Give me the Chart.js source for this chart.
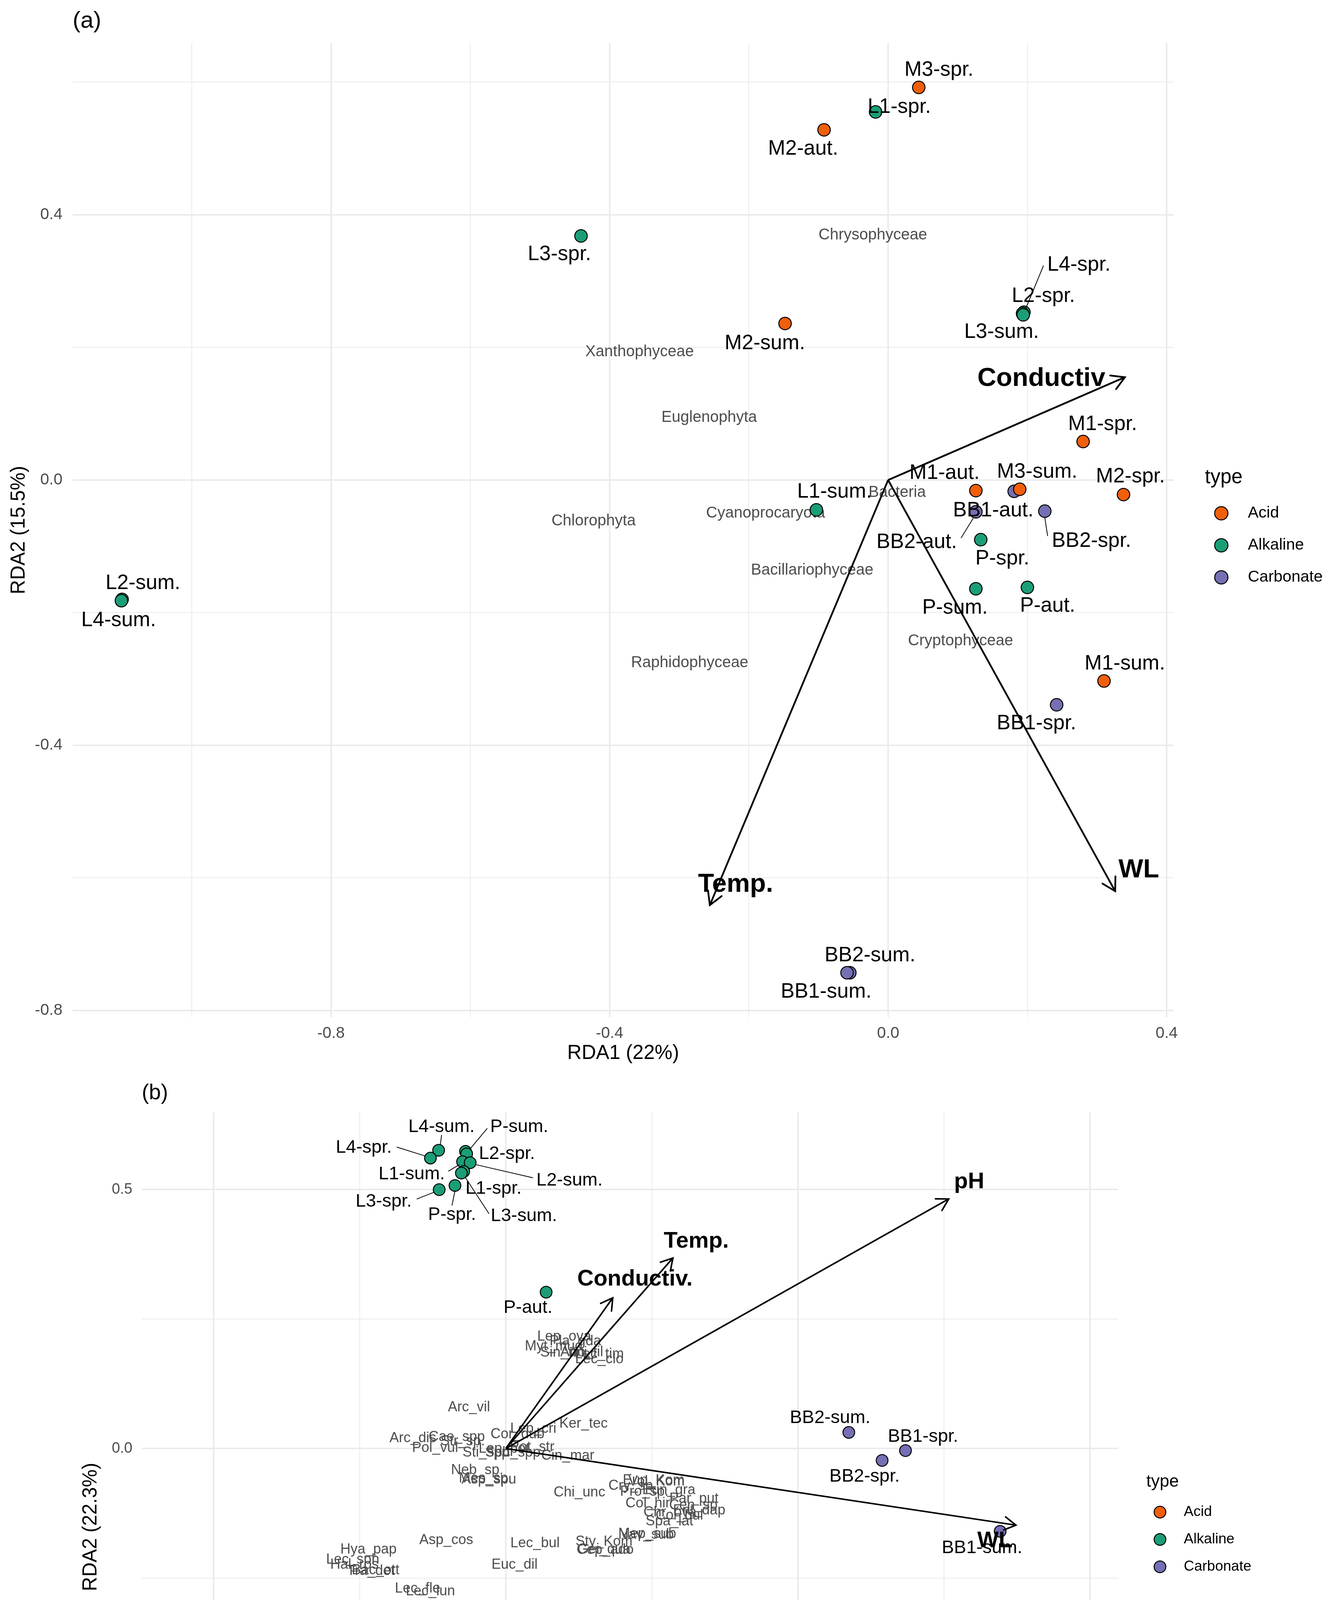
<!DOCTYPE html>
<html>
<head>
<meta charset="utf-8">
<script src="https://cdn.jsdelivr.net/npm/chart.js@4.4.0/dist/chart.umd.min.js"></script>
<style>
  body { margin: 0; background: #fff; }
  canvas { position: absolute; left: 0; }
</style>
</head>
<body>
<canvas id="rda-a" width="3413" height="2750" style="top:0;width:3413px;height:2750px"></canvas>
<canvas id="rda-b" width="3413" height="2350" style="top:2750px;width:3413px;height:2350px"></canvas>
<script>
const typeNames = ['Acid', 'Alkaline', 'Carbonate'];
const typeColors = ['#F05F0A', '#1B9E77', '#7570B3'];

// ---- panel (a): phytoplankton classes ----
const aSites = ['M3-spr.', 'M2-aut.', 'M2-sum.', 'M1-spr.', 'M1-aut.', 'M3-sum.', 'M2-spr.', 'M1-sum.',
  'L1-spr.', 'L3-spr.', 'L4-spr.', 'L2-spr.', 'L3-sum.', 'L1-sum.', 'P-spr.', 'P-sum.', 'P-aut.', 'L2-sum.', 'L4-sum.',
  'BB1-aut.', 'BB2-aut.', 'BB2-spr.', 'BB1-spr.', 'BB2-sum.', 'BB1-sum.'];
const aSiteType = [0, 0, 0, 0, 0, 0, 0, 0, 1, 1, 1, 1, 1, 1, 1, 1, 1, 1, 1, 2, 2, 2, 2, 2, 2];
const aRDA1 = [0.044, -0.092, -0.148, 0.280, 0.126, 0.189, 0.338, 0.310,
  -0.018, -0.441, 0.195, 0.193, 0.194, -0.103, 0.133, 0.126, 0.200, -1.100, -1.101,
  0.181, 0.126, 0.225, 0.242, -0.055, -0.059];
const aRDA2 = [0.592, 0.528, 0.236, 0.058, -0.016, -0.014, -0.022, -0.303,
  0.555, 0.368, 0.253, 0.251, 0.249, -0.045, -0.090, -0.164, -0.162, -0.180, -0.182,
  -0.017, -0.048, -0.047, -0.339, -0.743, -0.743];
// repelled label anchors (data units)
const aLabelX = [0.073, -0.122, -0.177, 0.308, 0.081, 0.214, 0.348, 0.340,
  0.016, -0.472, 0.274, 0.223, 0.163, -0.077, 0.164, 0.096, 0.229, -1.070, -1.105,
  0.151, 0.041, 0.292, 0.213, -0.026, -0.089];
const aLabelY = [0.618, 0.499, 0.206, 0.084, 0.010, 0.012, 0.005, -0.277,
  0.562, 0.340, 0.324, 0.277, 0.223, -0.018, -0.119, -0.193, -0.190, -0.156, -0.212,
  -0.046, -0.094, -0.092, -0.367, -0.717, -0.772];
const aLeaders = [[0.223, 0.323, 0.197, 0.257], [0.105, -0.087, 0.122, -0.058], [0.229, -0.084, 0.225, -0.057]];

const aEnv = ['Conductiv', 'Temp.', 'WL'];
const aEnvRDA1 = [0.340, -0.256, 0.326];
const aEnvRDA2 = [0.155, -0.641, -0.620];
const aEnvLabelX = [0.220, -0.219, 0.360];
const aEnvLabelY = [0.153, -0.610, -0.588];

const aTaxa = ['Chrysophyceae', 'Xanthophyceae', 'Euglenophyta', 'Chlorophyta', 'Cyanoprocaryota',
  'Bacteria', 'Bacillariophyceae', 'Raphidophyceae', 'Cryptophyceae'];
const aTaxaRDA1 = [-0.022, -0.357, -0.257, -0.423, -0.176, 0.013, -0.109, -0.285, 0.104];
const aTaxaRDA2 = [0.369, 0.193, 0.094, -0.062, -0.050, -0.019, -0.136, -0.276, -0.243];

const aXMajor = [-0.8, -0.4, 0, 0.4];
const aXMinor = [-1.0, -0.6, -0.2, 0.2];
const aYMajor = [-0.8, -0.4, 0, 0.4];
const aYMinor = [-0.6, -0.2, 0.2, 0.6];

// ---- panel (b): taxa ----
const bSites = ['P-sum.', 'L2-spr.', 'L4-sum.', 'L4-spr.', 'L1-sum.', 'L2-sum.', 'L1-spr.', 'L3-sum.', 'P-spr.', 'L3-spr.', 'P-aut.',
  'BB2-sum.', 'BB1-spr.', 'BB2-spr.', 'BB1-sum.', 'BB2-aut.', 'BB1-aut.',
  'M1-spr.', 'M3-sum.', 'M2-spr.', 'M3-spr.', 'M1-sum.', 'M2-sum.', 'M1-aut.', 'M2-aut.'];
const bSiteType = [1, 1, 1, 1, 1, 1, 1, 1, 1, 1, 1, 2, 2, 2, 2, 2, 2, 0, 0, 0, 0, 0, 0, 0, 0];
const bRDA1 = [-0.069, -0.067, -0.115, -0.129, -0.074, -0.061, -0.072, -0.076, -0.087, -0.114, 0.069,
  0.587, 0.684, 0.644, 0.846, 0.973, 0.871,
  -0.539, -0.445, -0.494, -0.539, -0.548, -0.529, -0.373, -0.341];
const bRDA2 = [0.574, 0.569, 0.576, 0.561, 0.554, 0.552, 0.535, 0.532, 0.508, 0.500, 0.302,
  0.031, -0.004, -0.023, -0.160, -0.845, -0.880,
  -0.397, -0.423, -0.433, -0.445, -0.490, -0.498, -0.583, -0.621];
const bLabelX = [0.023, 0.002, -0.110, -0.243, -0.161, 0.109, -0.021, 0.031, -0.092, -0.209, 0.038,
  0.555, 0.714, 0.614, 0.815, 0.973, 0.840,
  -0.554, -0.414, -0.409, -0.559, -0.549, -0.549, -0.404, -0.311];
const bLabelY = [0.621, 0.569, 0.621, 0.581, 0.530, 0.518, 0.502, 0.449, 0.451, 0.477, 0.272,
  0.059, 0.023, -0.054, -0.192, -0.817, -0.911,
  -0.366, -0.394, -0.455, -0.419, -0.470, -0.531, -0.556, -0.652];
const bLeaders = [[-0.032, 0.618, -0.061, 0.579], [-0.186, 0.582, -0.138, 0.565], [-0.098, 0.536, -0.080, 0.548],
  [-0.050, 0.548, 0.046, 0.523], [-0.152, 0.482, -0.123, 0.495], [-0.092, 0.470, -0.087, 0.498],
  [-0.029, 0.454, -0.069, 0.523], [-0.483, -0.440, -0.467, -0.449], [-0.110, 0.605, -0.112, 0.587]];

const bEnv = ['pH', 'Temp.', 'Conductiv.', 'WL'];
const bEnvRDA1 = [0.758, 0.286, 0.183, 0.873];
const bEnvRDA2 = [0.482, 0.368, 0.291, -0.148];
const bEnvLabelX = [0.793, 0.326, 0.221, 0.837];
const bEnvLabelY = [0.515, 0.400, 0.327, -0.179];

const bTaxa = ['Lep_ova', 'Pla_gda', 'Myt_mud', 'Sin_uni', 'Ano_fil', 'Lec_tim', 'Lec_clo', 'Arc_vil', 'Ker_tec', 'Lep_cri',
  'Cor_dub', 'Cae_spp', 'Arc_dis', 'Str_sp.', 'Pol_vul', 'Sti_spp', 'Lep_pot', 'Sph_spp', 'Pot_str', 'Cin_mar',
  'Neb_sp.', 'Asp_spu', 'Mes_sp.', 'Chi_unc', 'Eup_Kom', 'Vol_Kom', 'Cry_sp.', 'Pro_sp.', 'Eun_gra', 'Par_put',
  'Col_hir', 'Cen_sp', 'Ent_dap', 'Chr_ova', 'Col_bul', 'Spa_lat', 'Mep_sub', 'Nav_sub', 'Sty_Kom', 'Gei_qua',
  'Cep_ado', 'Asp_cos', 'Lec_bul', 'Euc_dil', 'Hya_pap', 'Lec_sph', 'Hal_ros', 'Tra_det', 'Bac_ott', 'Lec_fle',
  'Lec_lun'];
const bTaxaRDA1 = [0.100, 0.119, 0.082, 0.099, 0.130, 0.160, 0.160, -0.063, 0.133, 0.047,
  0.020, -0.084, -0.159, -0.074, -0.121, -0.034, -0.003, 0.012, 0.045, 0.106,
  -0.049, -0.029, -0.035, 0.126, 0.253, 0.258, 0.217, 0.237, 0.279, 0.322,
  0.243, 0.321, 0.331, 0.281, 0.297, 0.280, 0.242, 0.240, 0.168, 0.168,
  0.170, -0.102, 0.050, 0.015, -0.235, -0.262, -0.259, -0.231, -0.223, -0.151,
  -0.129];
const bTaxaRDA2 = [0.216, 0.207, 0.197, 0.185, 0.186, 0.182, 0.172, 0.079, 0.048, 0.038,
  0.027, 0.022, 0.020, 0.014, 0.001, -0.008, -0.001, -0.008, 0.002, -0.014,
  -0.042, -0.060, -0.058, -0.085, -0.062, -0.064, -0.072, -0.084, -0.081, -0.097,
  -0.106, -0.110, -0.120, -0.124, -0.130, -0.141, -0.165, -0.167, -0.180, -0.195,
  -0.196, -0.177, -0.183, -0.225, -0.195, -0.215, -0.225, -0.237, -0.235, -0.271,
  -0.276];

const bXMajor = [-0.5, 0, 0.5, 1.0];
const bXMinor = [-0.25, 0.25, 0.75];
const bYMajor = [-0.5, 0, 0.5];
const bYMinor = [-0.75, -0.25, 0.25];

const FONT = '"Liberation Sans", Arial, Helvetica, sans-serif';

function gridScale(major, minor, min, max, size, pad) {
  const all = major.concat(minor).sort((a, b) => a - b);
  const isMajor = v => major.some(m => Math.abs(m - v) < 1e-9);
  return {
    type: 'linear',
    min: min,
    max: max,
    afterBuildTicks: s => { s.ticks = all.map(v => ({ value: v })); },
    grid: {
      drawTicks: false,
      color: '#EBEBEB',
      lineWidth: c => (c.tick && isMajor(c.tick.value)) ? 4 : 2
    },
    border: { display: false },
    ticks: {
      autoSkip: false,
      maxRotation: 0,
      padding: pad,
      color: '#4D4D4D',
      font: { family: FONT, size: size },
      callback: v => isMajor(v) ? v.toFixed(1) : ''
    }
  };
}

function drawRda(canvasId, p) {
  const datasets = [];
  typeNames.forEach((name, t) => {
    const pts = [];
    p.sites.forEach((s, i) => { if (p.type[i] === t) pts.push({ x: p.x[i], y: p.y[i] }); });
    datasets.push({
      type: 'scatter', label: name, data: pts,
      backgroundColor: typeColors[t], borderColor: '#000', borderWidth: 2.5,
      pointRadius: p.dot, pointHoverRadius: p.dot, order: 1
    });
  });
  p.env.forEach((name, i) => {
    datasets.push({
      type: 'line', label: name, data: [{ x: 0, y: 0 }, { x: p.envX[i], y: p.envY[i] }],
      borderColor: '#000', borderWidth: p.arrowW, pointRadius: 0, fill: false, order: 2
    });
  });

  const labelPlugin = {
    id: 'rdaLabels',
    beforeDatasetsDraw(chart) {
      const { ctx, scales: { x, y } } = chart;
      ctx.save();
      ctx.font = p.taxaSize + 'px ' + FONT;
      ctx.fillStyle = '#4D4D4D';
      ctx.textAlign = 'center';
      ctx.textBaseline = 'middle';
      p.taxa.forEach((t, i) => ctx.fillText(t, x.getPixelForValue(p.taxaX[i]), y.getPixelForValue(p.taxaY[i])));
      ctx.restore();
    },
    afterDatasetsDraw(chart) {
      const { ctx, scales: { x, y } } = chart;
      ctx.save();
      // arrow heads
      const ox = x.getPixelForValue(0), oy = y.getPixelForValue(0);
      ctx.strokeStyle = '#000';
      ctx.lineWidth = p.arrowW;
      ctx.lineCap = 'round';
      p.env.forEach((name, i) => {
        const tx = x.getPixelForValue(p.envX[i]), ty = y.getPixelForValue(p.envY[i]);
        const ang = Math.atan2(ty - oy, tx - ox);
        const len = p.headLen, a = Math.PI / 6;
        ctx.beginPath();
        ctx.moveTo(tx - len * Math.cos(ang - a), ty - len * Math.sin(ang - a));
        ctx.lineTo(tx, ty);
        ctx.lineTo(tx - len * Math.cos(ang + a), ty - len * Math.sin(ang + a));
        ctx.stroke();
      });
      // leader segments
      ctx.lineWidth = 2;
      p.leaders.forEach(s => {
        ctx.beginPath();
        ctx.moveTo(x.getPixelForValue(s[0]), y.getPixelForValue(s[1]));
        ctx.lineTo(x.getPixelForValue(s[2]), y.getPixelForValue(s[3]));
        ctx.stroke();
      });
      // site labels
      ctx.fillStyle = '#000';
      ctx.textAlign = 'center';
      ctx.textBaseline = 'middle';
      ctx.font = p.siteSize + 'px ' + FONT;
      p.sites.forEach((s, i) => ctx.fillText(s, x.getPixelForValue(p.labelX[i]), y.getPixelForValue(p.labelY[i])));
      // environmental variable labels
      ctx.font = 'bold ' + p.envSize + 'px ' + FONT;
      p.env.forEach((s, i) => ctx.fillText(s, x.getPixelForValue(p.envLabelX[i]), y.getPixelForValue(p.envLabelY[i])));
      ctx.restore();
    },
    afterDraw(chart) {
      const { ctx, chartArea } = chart;
      const cy = (chartArea.top + chartArea.bottom) / 2;
      const lg = p.legend;
      ctx.save();
      ctx.fillStyle = '#000';
      ctx.textBaseline = 'middle';
      ctx.textAlign = 'left';
      ctx.font = lg.titleSize + 'px ' + FONT;
      ctx.fillText('type', chartArea.right + lg.titleDx, cy + lg.titleDy);
      typeNames.forEach((name, t) => {
        const yy = cy + lg.firstDy + t * lg.step;
        ctx.beginPath();
        ctx.arc(chartArea.right + lg.dotDx, yy, lg.dot, 0, Math.PI * 2);
        ctx.fillStyle = typeColors[t];
        ctx.fill();
        ctx.lineWidth = 2.5;
        ctx.strokeStyle = '#000';
        ctx.stroke();
        ctx.fillStyle = '#000';
        ctx.font = lg.labelSize + 'px ' + FONT;
        ctx.fillText(name, chartArea.right + lg.textDx, yy);
      });
      ctx.font = p.tagSize + 'px ' + FONT;
      ctx.fillText(p.tag, chartArea.left, p.tagY);
      ctx.restore();
    }
  };

  const xScale = gridScale(p.xMajor, p.xMinor, p.xMin, p.xMax, p.tickSize, p.xTickPad);
  xScale.afterFit = s => { s.height = p.xAxisH; };
  xScale.title = { display: true, text: p.xTitle, color: '#000', font: { family: FONT, size: 51 }, padding: { top: 0, bottom: p.xTitlePad } };
  const yScale = gridScale(p.yMajor, p.yMinor, p.yMin, p.yMax, p.tickSize, p.yTickPad);
  yScale.afterFit = s => { s.width = p.yAxisW; };
  yScale.title = { display: true, text: p.yTitle, color: '#000', font: { family: FONT, size: 51 }, padding: { top: p.yTitlePad, bottom: 0 } };

  return new Chart(document.getElementById(canvasId), {
    type: 'scatter',
    data: { datasets: datasets },
    options: {
      responsive: false,
      animation: false,
      devicePixelRatio: 1,
      layout: { padding: { top: p.padTop, right: p.padRight, left: 0, bottom: 0 } },
      plugins: { legend: { display: false }, tooltip: { enabled: false } },
      scales: { x: xScale, y: yScale }
    },
    plugins: [labelPlugin]
  });
}

drawRda('rda-a', {
  sites: aSites, type: aSiteType, x: aRDA1, y: aRDA2, labelX: aLabelX, labelY: aLabelY, leaders: aLeaders,
  env: aEnv, envX: aEnvRDA1, envY: aEnvRDA2, envLabelX: aEnvLabelX, envLabelY: aEnvLabelY,
  taxa: aTaxa, taxaX: aTaxaRDA1, taxaY: aTaxaRDA2,
  xMajor: aXMajor, xMinor: aXMinor, yMajor: aYMajor, yMinor: aYMinor,
  xMin: -1.171, xMax: 0.41, yMin: -0.81, yMax: 0.659,
  xTitle: 'RDA1 (22%)', yTitle: 'RDA2 (15.5%)', tag: '(a)', tagSize: 60, tagY: 54,
  padTop: 110, padRight: 408, xAxisH: 146, yAxisW: 186,
  tickSize: 41, xTickPad: 17, yTickPad: 26, xTitlePad: 22, yTitlePad: 18,
  dot: 16, arrowW: 4.5, headLen: 38, siteSize: 53, envSize: 67, taxaSize: 40,
  legend: { titleSize: 51, labelSize: 41, dot: 17, titleDx: 80, titleDy: -134, dotDx: 122, textDx: 190, firstDy: -43, step: 82 }
});

drawRda('rda-b', {
  sites: bSites, type: bSiteType, x: bRDA1, y: bRDA2, labelX: bLabelX, labelY: bLabelY, leaders: bLeaders,
  env: bEnv, envX: bEnvRDA1, envY: bEnvRDA2, envLabelX: bEnvLabelX, envLabelY: bEnvLabelY,
  taxa: bTaxa, taxaX: bTaxaRDA1, taxaY: bTaxaRDA2,
  xMajor: bXMajor, xMinor: bXMinor, yMajor: bYMajor, yMinor: bYMinor,
  xMin: -0.623, xMax: 1.048, yMin: -0.952, yMax: 0.649,
  xTitle: 'RDA1 (35.8%)', yTitle: 'RDA2 (22.3%)', tag: '(b)', tagSize: 55, tagY: 49,
  padTop: 98, padRight: 550, xAxisH: 130, yAxisW: 363,
  tickSize: 38, xTickPad: 13, yTickPad: 24, xTitlePad: 19, yTitlePad: 202,
  dot: 15, arrowW: 4, headLen: 34, siteSize: 47, envSize: 58, taxaSize: 36,
  legend: { titleSize: 44, labelSize: 37, dot: 15, titleDx: 72, titleDy: -115, dotDx: 107, textDx: 168, firstDy: -38, step: 70 }
});
</script>
</body>
</html>
